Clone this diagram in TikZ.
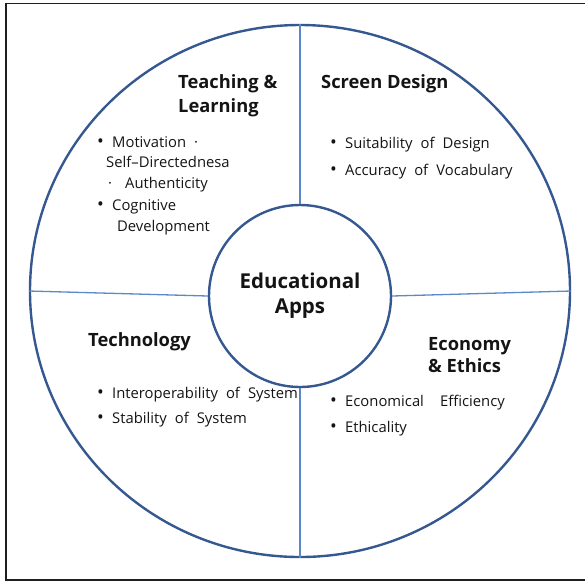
\documentclass[tikz,border=0pt]{standalone}
\usepackage{fontspec}
\setmainfont{Open Sans}
\newfontfamily\headfont{Open Sans}[BoldFont={Open Sans Bold}]
\newfontfamily\itemfont[WordSpace=2.1]{Open Sans}
\usetikzlibrary{shapes.geometric}
\definecolor{ringblue}{HTML}{365891}
\definecolor{divblue}{HTML}{5A88C8}
\definecolor{ink}{HTML}{141414}
\newcommand{\bul}{\makebox[15pt][l]{\raisebox{-0.6pt}{\fontsize{18}{16}\selectfont\textbullet}}}
\begin{document}
\begin{tikzpicture}[x=1pt,y=-1pt,
  frameline/.style={draw=black!88,line width=1.7pt},
  ring/.style={draw=ringblue,line width=2.4pt,inner sep=0pt},
  divider/.style={draw=divblue,line width=1.3pt},
  head/.style={font=\headfont\bfseries\fontsize{18.3}{23}\selectfont,text=ink,anchor=base west,inner sep=0pt},
  item/.style={font=\itemfont\fontsize{14.8}{16}\selectfont,text=ink,anchor=base west,inner sep=0pt}]
\useasboundingbox (0,0) rectangle (585,582);
% outer frame (open on the right)
\draw[frameline] (585,3.5) -- (6,3.5) -- (6,580) -- (585,580);
% rings
\node[ring,ellipse,minimum width=540pt,minimum height=532pt] (rim) at (300,291) {};
\node[ring,circle,minimum size=182pt,align=center,
      font=\headfont\bfseries\fontsize{20.5}{25}\selectfont,text=ink] (hub) at (300,296) {Educational\\Apps};
% quadrant dividers
\draw[divider] (rim.north) -- (hub.north);
\draw[divider] (hub.south) -- (rim.south);
\draw[divider] (rim.west) -- (hub.west);
\draw[divider] (hub.east) -- (rim.east);
% Teaching & Learning
\node[head] (tl1) at (178,88) {Teaching \&};
\node[head] (tl2) at (178,112) {Learning};
\node[item] (ta) at (97,147) {\bul Motivation\hspace{8pt}·};
\node[item] (tb) at (106,167) {Self–Directednesa};
\node[item] (tc) at (108,188) {·\hspace{5pt} Authenticity};
\node[item] (td) at (97,210) {\bul Cognitive};
\node[item] (te) at (117,231) {Development};
% Screen Design
\node[head] (sd) at (321,88) {Screen Design};
\node[item] (sa) at (330,148) {\bul Suitability of Design};
\node[item] (sb) at (330,175) {\bul Accuracy of Vocabulary};
% Technology
\node[head] (te1) at (88,346) {Technology};
\node[item] (ia) at (97,398) {\bul Interoperability of System};
\node[item] (ib) at (97,423) {\bul Stability of System};
% Economy & Ethics
\node[head] (ee1) at (428,350) {Economy};
\node[head] (ee2) at (428,372) {\& Ethics};
\node[item] (ea) at (330,406) {\bul Economical \ Efficiency};
\node[item] (eb) at (330,432) {\bul Ethicality};
\end{tikzpicture}
\end{document}
